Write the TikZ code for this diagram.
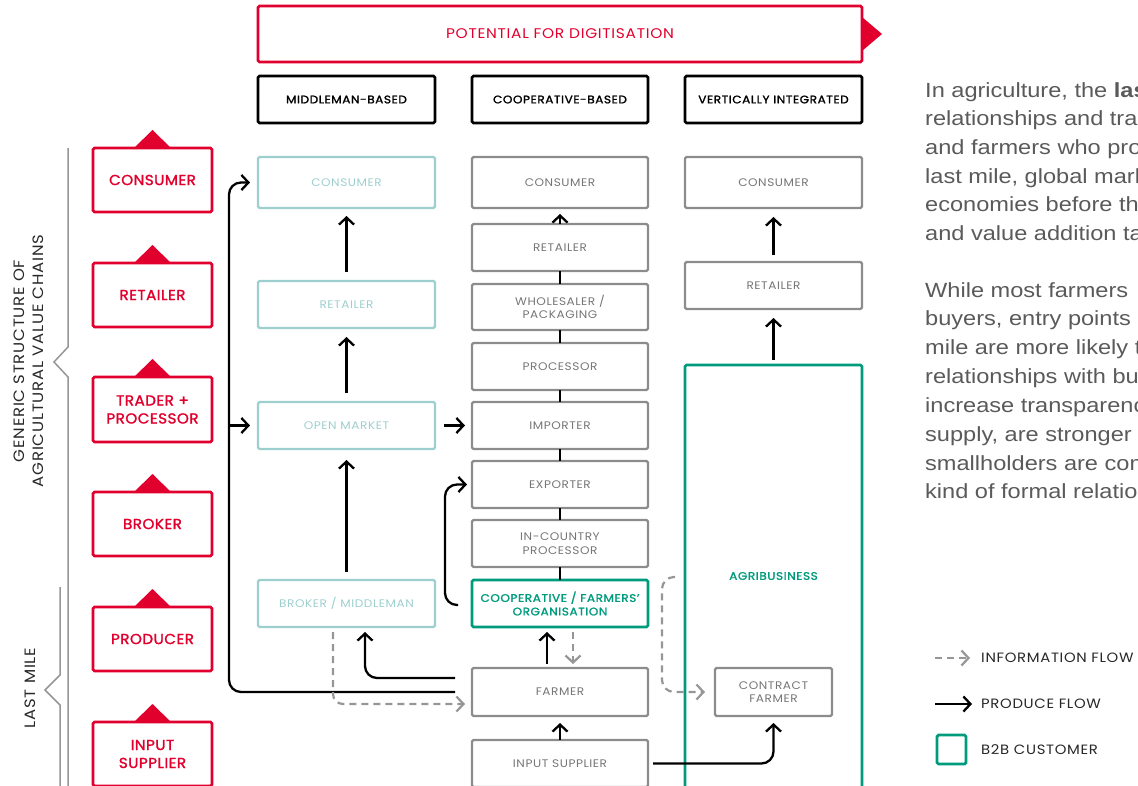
\documentclass[tikz,border=0pt]{standalone}
\usepackage{fontspec}
\setmainfont{Poppins}
\newfontfamily\lab[LetterSpace=5,FakeStretch=1.1]{Poppins}
\newfontfamily\labm[LetterSpace=5,FakeStretch=1.1,FakeBold=1.5]{Poppins}
\newfontfamily\redf[LetterSpace=3,FakeStretch=1.05,FakeBold=1.5]{Poppins}
\newfontfamily\para[FakeStretch=1.15]{Liberation Sans}
\usetikzlibrary{arrows.meta,calc}

\definecolor{dred}{RGB}{225,0,45}
\definecolor{lteal}{RGB}{158,207,207}
\definecolor{bgray}{RGB}{140,140,143}
\definecolor{tgray}{RGB}{118,118,120}
\definecolor{b2b}{RGB}{0,155,125}
\definecolor{dgray}{RGB}{150,150,152}
\definecolor{ptext}{RGB}{90,90,90}
\definecolor{ink}{RGB}{40,40,40}

\tikzset{
  box/.style={rectangle, rounded corners=1.5pt, align=center, inner sep=0pt, outer sep=0pt},
  graybox/.style={box, draw=bgray, line width=2.4pt, text=tgray, font=\lab\fontsize{11}{13.5}\selectfont},
  tealbox/.style={box, draw=lteal, line width=2.4pt, text=lteal, font=\lab\fontsize{11}{13.5}\selectfont},
  greenbox/.style={box, draw=b2b, line width=2.8pt, text=b2b, font=\labm\fontsize{11}{13.5}\selectfont},
  headbox/.style={box, draw=black, line width=2.6pt, text=black, font=\labm\fontsize{11}{13.5}\selectfont,
                  minimum height=47pt},
  redbox/.style={box, draw=dred, line width=2.8pt, text=dred, font=\redf\fontsize{14.5}{18}\selectfont,
                 minimum width=119pt, minimum height=64pt},
  colm/.style={minimum width=177pt},
  colc/.style={minimum width=176pt},
  colv/.style={minimum width=177pt},
  tip/.style={-{Straight Barb[length=7pt,width=15pt]}},
  prod/.style={draw=black, line width=2.3pt, tip},
  link/.style={draw=black, line width=2.3pt},
  info/.style={draw=dgray, line width=2.2pt, dash pattern=on 7pt off 5pt, tip},
  brace/.style={draw=dgray, line width=1.5pt},
  para/.style={font=\para\fontsize{20.5}{28.8}\selectfont, text=ptext, inner sep=0pt, anchor=base west},
  legtxt/.style={font=\lab\fontsize{13.5}{16}\selectfont, text=ink, inner sep=0pt, anchor=west},
  side/.style={font=\lab\fontsize{15}{19}\selectfont, text=ink, inner sep=0pt, align=center, rotate=90},
}

\begin{document}
\begin{tikzpicture}[x=1pt,y=-1pt]
\useasboundingbox (0,0) rectangle (1138,785);
\clip (0,0) rectangle (1138,785);

% ---- banner and column headings
\node[box, draw=dred, line width=2.6pt, text=dred, font=\lab\fontsize{14}{16}\selectfont,
      minimum width=604pt, minimum height=56pt] (ban) at (560,34) {POTENTIAL FOR DIGITISATION};
\fill[dred] ([yshift=17pt]ban.east) -- ([xshift=20pt]ban.east) -- ([yshift=-17pt]ban.east) -- cycle;

\node[headbox, colm] (h-m) at (346.5,99.5) {MIDDLEMAN-BASED};
\node[headbox, colc] (h-c) at (560,99.5) {COOPERATIVE-BASED};
\node[headbox, colv] (h-v) at (773.5,99.5) {VERTICALLY INTEGRATED};

% ---- generic chain (left)
\node[redbox] (r1) at (152.5,180) {CONSUMER};
\node[redbox] (r2) at (152.5,295) {RETAILER};
\node[redbox, minimum height=65pt] (r3) at (152.5,409.5) {TRADER +\\PROCESSOR};
\node[redbox] (r4) at (152.5,524) {BROKER};
\node[redbox] (r5) at (152.5,639) {PRODUCER};
\node[redbox] (r6) at (152.5,754) {INPUT\\SUPPLIER};
\foreach \n in {r1,r2,r3,r4,r5,r6}
  \fill[dred] ([xshift=-18.5pt]\n.north) -- ([yshift=18pt]\n.north) -- ([xshift=18.5pt]\n.north) -- cycle;

% ---- side brackets
\draw[brace] (68,148) -- (68,347) -- (54,362) -- (68,377) -- (68,790);
\draw[brace] (60,587) -- (60,675) -- (45,690) -- (60,705) -- (60,790);
\node[side] (gen) at (29,361) {GENERIC STRUCTURE OF\\AGRICULTURAL VALUE CHAINS};
\node[side] (lm) at (30,688) {LAST MILE};

% ---- middleman-based chain
\node[tealbox, colm, minimum height=51pt] (m-con) at (346.5,182.5) {CONSUMER};
\node[tealbox, colm, minimum height=47pt] (m-ret) at (346.5,304.5) {RETAILER};
\node[tealbox, colm, minimum height=47pt] (m-open) at (346.5,425.5) {OPEN MARKET};
\node[tealbox, colm, minimum height=47pt] (m-brok) at (346.5,603.5) {BROKER / MIDDLEMAN};

% ---- cooperative-based chain
\node[graybox, colc, minimum height=51pt] (c-con) at (560,182.5) {CONSUMER};
\node[graybox, colc, minimum height=47pt] (c-ret) at (560,247.5) {RETAILER};
\node[graybox, colc, minimum height=46pt] (c-whole) at (560,307) {WHOLESALER /\\PACKAGING};
\node[graybox, colc, minimum height=47pt] (c-proc) at (560,366.5) {PROCESSOR};
\node[graybox, colc, minimum height=47pt] (c-imp) at (560,425.5) {IMPORTER};
\node[graybox, colc, minimum height=47pt] (c-exp) at (560,484.5) {EXPORTER};
\node[graybox, colc, minimum height=47pt] (c-icp) at (560,543.5) {IN-COUNTRY\\PROCESSOR};
\node[greenbox, colc, minimum height=47pt] (c-coop) at (560,603.5) {COOPERATIVE / FARMERS’\\ORGANISATION};
\node[graybox, colc, minimum height=48pt] (c-farm) at (560,692) {FARMER};
\node[graybox, colc, minimum height=47pt] (c-input) at (560,763.5) {INPUT SUPPLIER};

% ---- vertically integrated chain
\node[graybox, colv, minimum height=51pt] (v-con) at (773.5,182.5) {CONSUMER};
\node[graybox, colv, minimum height=47pt] (v-ret) at (773.5,285.5) {RETAILER};
\node[box, draw=b2b, line width=2.8pt, colv, minimum height=440pt] (agri) at (773.5,585) {};
\node[font=\labm\fontsize{11}{13.5}\selectfont, text=b2b, inner sep=0pt] (agri-t) at (773.5,576) {AGRIBUSINESS};
\node[graybox, minimum width=117pt, minimum height=48pt] (v-cf) at (773.5,692) {CONTRACT\\FARMER};

% ---- produce flow, middleman-based
\draw[prod, shorten <=9pt, shorten >=8pt] (m-ret.north) -- (m-con.south);
\draw[prod, shorten <=9pt, shorten >=9pt] (m-open.north) -- (m-ret.south);
\draw[prod, shorten <=8pt, shorten >=11pt] (m-brok.north) -- (m-open.south);
\draw[prod, shorten <=9pt, shorten >=7pt] (m-open.east) -- (c-imp.west);

% trunk from the farmer up the left side
\coordinate (trunk) at (229,0);
\draw[prod, rounded corners=12pt] ([xshift=-17pt]c-farm.west) -| (trunk |- m-con.west) -- ([xshift=-8pt]m-con.west);
\draw[prod] (trunk |- m-open.west) -- ([xshift=-8pt]m-open.west);
\draw[prod, rounded corners=12pt] ([xshift=-17pt,yshift=14pt]c-farm.west) -| ([xshift=18.5pt,yshift=-5pt]m-brok.south);
\draw[info, rounded corners=10pt] ([xshift=-13.5pt,yshift=-5pt]m-brok.south) |- ([xshift=-7pt,yshift=-12pt]c-farm.west);

% ---- produce flow, cooperative-based
\draw[prod, shorten >=6pt] (c-ret.north) -- (c-con.south);
\draw[link] (c-whole.north) -- (c-ret.south);
\draw[link] (c-proc.north) -- (c-whole.south);
\draw[link] (c-imp.north) -- (c-proc.south);
\draw[link] (c-exp.north) -- (c-imp.south);
\draw[link] (c-icp.north) -- (c-exp.south);
\draw[link] (c-coop.north) -- (c-icp.south);
\draw[prod, rounded corners=12pt] ([xshift=-14pt,yshift=-1.5pt]c-coop.west) -| ([xshift=-27pt]c-exp.west) -- ([xshift=-5pt]c-exp.west);
\draw[prod] ([xshift=-13pt,yshift=4pt]c-farm.north) -- ([xshift=-13pt,yshift=-5pt]c-coop.south);
\draw[info] ([xshift=13pt,yshift=-5pt]c-coop.south) -- ([xshift=13pt,yshift=4pt]c-farm.north);
\draw[prod, shorten >=7pt] (c-input.north) -- (c-farm.south);
\draw[prod, rounded corners=12pt] ([xshift=5pt]c-input.east) -| ([yshift=-7pt]v-cf.south);

% ---- vertically integrated flows
\draw[prod, shorten <=7pt, shorten >=9pt] (v-ret.north) -- (v-con.south);
\draw[prod, shorten <=5pt, shorten >=9pt] (agri.north) -- (v-ret.south);
\coordinate (info-src) at (675,577);
\draw[info, rounded corners=12pt] (info-src) -- ++(-13,0) |- ([xshift=-10pt]v-cf.west);

% ---- explanatory text
\foreach \t [count=\i] in {{In agriculture, the \textbf{last}},{relationships and trade},{and farmers who produce},
  {last mile, global markets},{economies before they},{and value addition take}}
  \node[para] (pa\i) at (925,{97+28.7*(\i-1)}) {\t};
\foreach \t [count=\i] in {{While most farmers},{buyers, entry points},{mile are more likely to},
  {relationships with buyers},{increase transparency},{supply, are stronger},{smallholders are commonly},
  {kind of formal relationship}}
  \node[para] (pb\i) at (925,{297+28.85*(\i-1)}) {\t};

% ---- legend
\coordinate (li-a) at (935,658); \coordinate (li-b) at (970,658);
\draw[info] (li-a) -- (li-b);
\node[legtxt] (li-t) at (981,658) {INFORMATION FLOW};
\coordinate (lp-a) at (935,704); \coordinate (lp-b) at (972,704);
\draw[prod] (lp-a) -- (lp-b);
\node[legtxt] (lp-t) at (981,704) {PRODUCE FLOW};
\node[box, draw=b2b, line width=2.8pt, minimum width=29pt, minimum height=29pt] (lb-box) at (951.5,749.5) {};
\node[legtxt] (lb-t) at (981,750) {B2B CUSTOMER};
\end{tikzpicture}
\end{document}
